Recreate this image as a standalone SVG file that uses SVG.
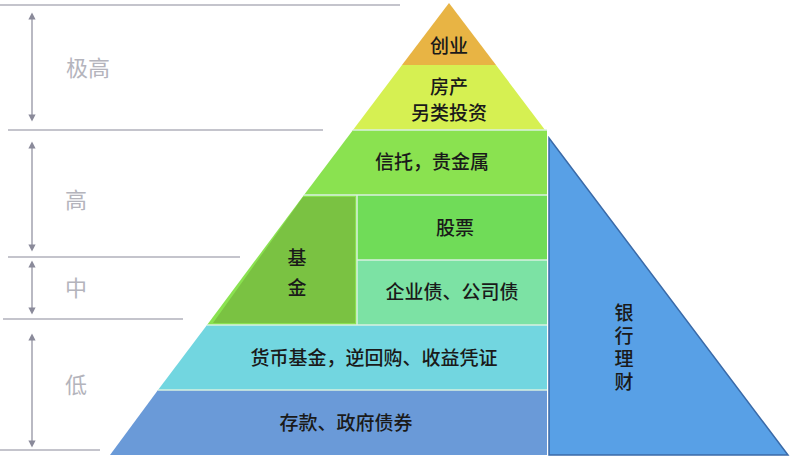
<svg xmlns="http://www.w3.org/2000/svg" width="796" height="456" viewBox="0 0 796 456">
<defs>
<marker id="ah" viewBox="0 0 10 10" refX="5" refY="5" markerWidth="6" markerHeight="6" orient="auto-start-reverse"><path d="M0,0 L10,5 L0,10 z" fill="#8a8a9a"/></marker>
<style>
.t{font-family:"Noto Sans CJK SC",sans-serif;fill:#1a1a1a;font-size:19px;font-weight:500;text-anchor:middle}
.g{font-family:"Noto Sans CJK SC",sans-serif;fill:#b4b4bc;font-size:22px;text-anchor:middle}
.l{stroke:#c4c4cc;stroke-width:2}
.a{stroke:#8a8a9a;stroke-width:1.2;marker-start:url(#ah);marker-end:url(#ah)}
.s{stroke:#d8f0e0;stroke-width:1.5}
</style>
</defs>
<rect width="796" height="456" fill="#fff"/>
<g id="scale">
<line class="l" x1="0" y1="5" x2="400" y2="5"/>
<line class="l" x1="8" y1="130" x2="323" y2="130"/>
<line class="l" x1="8" y1="257" x2="240" y2="257"/>
<line class="l" x1="3" y1="319" x2="183" y2="319"/>
<line class="l" x1="0" y1="450" x2="100" y2="450"/>
<line class="a" x1="32" y1="16" x2="32" y2="118"/>
<line class="a" x1="32" y1="145" x2="32" y2="248"/>
<line class="a" x1="32" y1="264" x2="32" y2="311"/>
<line class="a" x1="32" y1="337" x2="32" y2="444"/>
<text class="g" x="88" y="76">极高</text>
<text class="g" x="76" y="208">高</text>
<text class="g" x="76" y="296">中</text>
<text class="g" x="76" y="393">低</text>
</g>
<g id="bank">
<polygon points="549,138 549,455 788,455" fill="#58a0e6" stroke="#3a6aa8" stroke-width="1.5"/>
<text class="t" x="624" y="320">银</text>
<text class="t" x="624" y="343">行</text>
<text class="t" x="624" y="366">理</text>
<text class="t" x="624" y="389">财</text>
</g>
<g id="pyramid">
<polygon points="449,3 496,65 402,65" fill="#e8b444"/>
<polygon points="402,65 496,65 545,130 353,130" fill="#d6f052"/>
<polygon points="353,130 547,130 547,195 304,195" fill="#8ae250"/>
<polygon points="304,195 357,195 357,325 207,325" fill="#8ae250"/>
<rect x="357" y="195" width="190" height="65" fill="#70dc58"/>
<rect x="357" y="260" width="190" height="65" fill="#7ce2a4"/>
<polygon points="303,197 355,197 355,323 213,323" fill="#7ac242"/>
<polygon points="207,325 547,325 547,390 158,390" fill="#72d6e0"/>
<polygon points="158,390 547,390 547,455 110,455" fill="#6a9ad8"/>
<line class="s" x1="353" y1="130" x2="547" y2="130"/>
<line class="s" x1="304" y1="195" x2="547" y2="195"/>
<line class="s" x1="357" y1="260" x2="547" y2="260"/>
<line class="s" x1="207" y1="325" x2="547" y2="325"/>
<line class="s" x1="158" y1="390" x2="547" y2="390"/>
<line class="s" x1="357" y1="195" x2="357" y2="325"/>
<text class="t" x="449" y="53">创业</text>
<text class="t" x="449" y="94">房产</text>
<text class="t" x="449" y="120">另类投资</text>
<text class="t" x="432" y="169">信托，贵金属</text>
<text class="t" x="455" y="235">股票</text>
<text class="t" x="452" y="299">企业债、公司债</text>
<text class="t" x="297" y="265">基</text>
<text class="t" x="297" y="295">金</text>
<text class="t" x="374" y="365">货币基金，逆回购、收益凭证</text>
<text class="t" x="346" y="430">存款、政府债券</text>
</g>
</svg>
